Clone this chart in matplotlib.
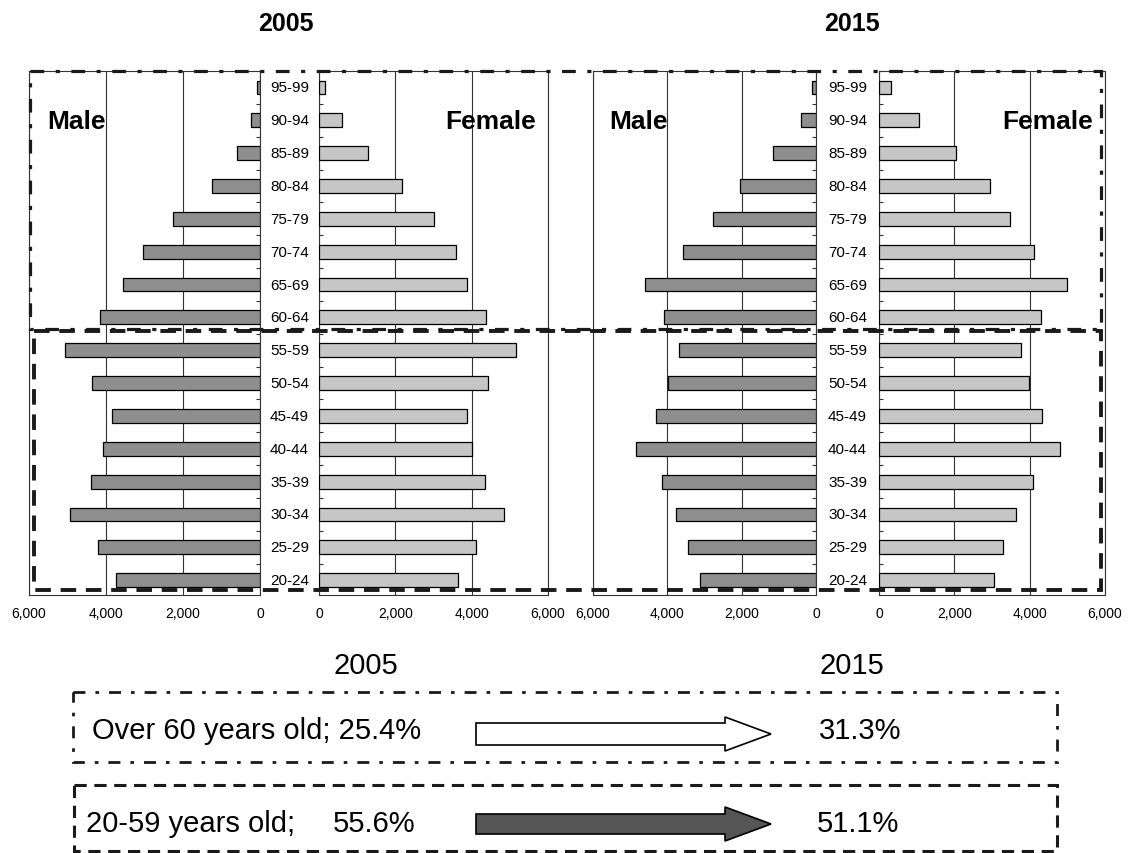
import matplotlib
matplotlib.use('Agg')
import matplotlib.pyplot as plt
import matplotlib.transforms as mtransforms
from matplotlib.patches import Rectangle, Polygon
import numpy as np

plt.rcParams['font.family'] = ['Liberation Sans', 'DejaVu Sans']

# ---------------- data ----------------
age_groups = ['20-24', '25-29', '30-34', '35-39', '40-44', '45-49', '50-54', '55-59',
              '60-64', '65-69', '70-74', '75-79', '80-84', '85-89', '90-94', '95-99']
male_2005 = [3730, 4200, 4925, 4390, 4070, 3850, 4375, 5070,
             4160, 3570, 3050, 2260, 1250, 590, 230, 90]
female_2005 = [3630, 4125, 4835, 4360, 4020, 3880, 4430, 5165,
               4380, 3890, 3600, 3010, 2175, 1290, 615, 170]
male_2015 = [3120, 3450, 3775, 4150, 4850, 4300, 3970, 3690,
             4085, 4610, 3580, 2780, 2050, 1150, 410, 100]
female_2015 = [3040, 3280, 3640, 4100, 4810, 4340, 3990, 3780,
               4310, 4985, 4115, 3490, 2960, 2050, 1060, 320]
years = ['2005', '2015']
tick_values = [0, 2000, 4000, 6000]
tick_labels = ['0', '2,000', '4,000', '6,000']
over60_label = 'Over 60 years old; 25.4%'
over60_2015 = '31.3%'
working_label = '20-59 years old;'
working_2005 = '55.6%'
working_2015 = '51.1%'

# ---------------- layout ----------------
W, H = 1132, 854
fig = plt.figure(figsize=(W / 100, H / 100), dpi=100)

def px_axes(x0, x1, y0, y1):
    return fig.add_axes([x0 / W, 1 - y1 / H, (x1 - x0) / W, (y1 - y0) / H])

AX_TOP, AX_BOT = 72, 596
YLIM = (-0.452, 15.33)
male_col = '#8e8e8e'
female_col = '#c6c6c6'
line_col = '#333333'
y = np.arange(len(age_groups))

panels = [
    (male_2005, 29, 260, True),
    (female_2005, 319, 548, False),
    (male_2015, 593, 816, True),
    (female_2015, 879, 1105, False),
]
axes = []
for vals, x0, x1, is_male in panels:
    ax = px_axes(x0, x1, AX_TOP, AX_BOT)
    ax.barh(y, vals, height=0.42, color=male_col if is_male else female_col,
            edgecolor='black', linewidth=0.9, zorder=3)
    ax.set_ylim(*YLIM)
    if is_male:
        ax.set_xlim(6000, 0)
        ax.yaxis.set_ticks_position('right')
    else:
        ax.set_xlim(0, 6000)
        ax.yaxis.set_ticks_position('left')
    ax.set_xticks(tick_values, tick_labels)
    ax.tick_params(axis='x', length=0, pad=8, labelsize=10, colors='black')
    ax.set_yticks([])
    ax.set_yticks(np.arange(len(age_groups)) + 0.5, minor=True)
    ax.tick_params(axis='y', which='minor', direction='in', length=3,
                   width=0.8, color=line_col)
    ax.grid(axis='x', color=line_col, linewidth=0.8)
    ax.set_axisbelow(True)
    for s in ax.spines.values():
        s.set_linewidth(0.8)
        s.set_color(line_col)
    axes.append(ax)

# age labels in the gap between male / female panels
for (ax_f, center_px, x0, x1) in [(axes[1], 289.5, 319, 548), (axes[3], 847.5, 879, 1105)]:
    xf = (center_px - x0) / (x1 - x0)
    tr = mtransforms.blended_transform_factory(ax_f.transAxes, ax_f.transData)
    for i, lab in enumerate(age_groups):
        ax_f.text(xf, i, lab, transform=tr, ha='center', va='center',
                  fontsize=11, clip_on=False)

# ---------------- overlay ----------------
ov = fig.add_axes([0, 0, 1, 1])
ov.set_xlim(0, W)
ov.set_ylim(H, 0)
ov.axis('off')
ov.patch.set_alpha(0)

dashdot = (0, (4.3, 3.6, 1.3, 3.6))
dashed = (0, (4.0, 2.5))

# upper (60+) and lower (20-59) boxes around pyramids
ov.add_patch(Rectangle((30, 72), 1071, 258, fill=False, lw=2.3, ec='#1a1a1a',
                       ls=dashdot, zorder=5))
ov.add_patch(Rectangle((34, 332), 1067, 259, fill=False, lw=2.8, ec='#1a1a1a',
                       ls=dashed, zorder=5))

# titles
ov.text(286, 24, years[0], ha='center', va='center', fontsize=18, fontweight='bold')
ov.text(852, 24, years[1], ha='center', va='center', fontsize=18, fontweight='bold')
ov.text(47, 122, 'Male', ha='left', va='center', fontsize=19, fontweight='bold')
ov.text(536, 122, 'Female', ha='right', va='center', fontsize=19, fontweight='bold')
ov.text(609, 122, 'Male', ha='left', va='center', fontsize=19, fontweight='bold')
ov.text(1093, 122, 'Female', ha='right', va='center', fontsize=19, fontweight='bold')

# bottom summary
ov.text(366, 666, years[0], ha='center', va='center', fontsize=21)
ov.text(852, 666, years[1], ha='center', va='center', fontsize=21)

ov.add_patch(Rectangle((73, 693), 984, 70, fill=False, lw=2.0, ec='#1a1a1a',
                       ls=dashdot, zorder=5))
ov.add_patch(Rectangle((74, 786), 983, 66, fill=False, lw=2.2, ec='#1a1a1a',
                       ls=dashed, zorder=5))

ov.text(92, 731, over60_label, ha='left', va='center', fontsize=21)
ov.text(819, 731, over60_2015, ha='left', va='center', fontsize=21)
ov.text(86, 824, working_label, ha='left', va='center', fontsize=21)
ov.text(333, 824, working_2005, ha='left', va='center', fontsize=21)
ov.text(817, 824, working_2015, ha='left', va='center', fontsize=21)

def arrow(yc, half_shaft, half_head, fc):
    x0, xh, xt = 476, 725, 771
    pts = [(x0, yc - half_shaft), (xh, yc - half_shaft), (xh, yc - half_head),
           (xt, yc), (xh, yc + half_head), (xh, yc + half_shaft), (x0, yc + half_shaft)]
    ov.add_patch(Polygon(pts, closed=True, fc=fc, ec='black', lw=1.2, zorder=6))

arrow(735, 11, 17, 'white')
arrow(825, 10, 17, '#555555')

fig.savefig('out.png', dpi=100)
